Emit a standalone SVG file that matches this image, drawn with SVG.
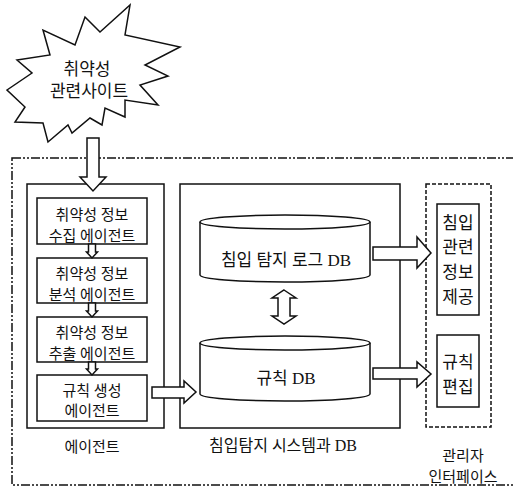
<svg xmlns="http://www.w3.org/2000/svg" width="513" height="487" viewBox="0 0 513 487">
<style>
text{font-family:"Liberation Serif","Noto Sans CJK KR",serif;fill:#111;text-anchor:middle;dominant-baseline:central}
.box{fill:none;stroke:#111;stroke-width:1.5}
.wbox{fill:#fff;stroke:#111;stroke-width:1.5}
.arr{fill:#fff;stroke:#111;stroke-width:1.5;stroke-linejoin:miter}
.t15{font-size:15px}
.t17{font-size:17px}
</style>
<rect width="513" height="487" fill="#fff"/>
<g id="outer">
<rect x="12" y="158" width="520" height="327" fill="none" stroke="#111" stroke-width="1.5" stroke-dasharray="9,2,2,2,2,2"/>
</g>
<g id="site">
<polygon class="wbox" points="85,17 100,32 130,5 125,35 180,47 145,65 168,76 140,85 158,105 125,100 125,117 105,108 102,125 90,118 72,133 68,125 48,142 43,123 15,122 25,107 7,90 32,73 17,60 50,55 43,30 75,45"/>
<text class="t17" x="87" y="69">취약성</text>
<text class="t17" x="89" y="91">관련사이트</text>
</g>
<g id="agent">
<rect class="box" x="27" y="184" width="137" height="244"/>
<text class="t15" x="92" y="447">에이전트</text>
</g>
<g id="collect">
<rect class="box" x="37" y="198" width="110" height="46"/>
<text class="t15" x="92" y="215">취약성 정보</text>
<text class="t15" x="92" y="236">수집 에이전트</text>
</g>
<g id="analyze">
<rect class="box" x="37" y="258" width="110" height="45"/>
<text class="t15" x="92" y="274">취약성 정보</text>
<text class="t15" x="92" y="295">분석 에이전트</text>
</g>
<g id="extract">
<rect class="box" x="37" y="317" width="110" height="45"/>
<text class="t15" x="92" y="333">취약성 정보</text>
<text class="t15" x="92" y="354">추출 에이전트</text>
</g>
<g id="generate">
<rect class="box" x="37" y="375" width="110" height="46"/>
<text class="t15" x="92" y="391">규칙 생성</text>
<text class="t15" x="92" y="411">에이전트</text>
</g>
<g id="ids">
<rect class="box" x="180" y="184" width="220" height="244"/>
<text style="font-size:16px" x="283" y="445">침입탐지 시스템과 DB</text>
</g>
<g id="logdb">
<path class="wbox" d="M200,222 V275 A85,7 0 0 0 370,275 V222"/>
<ellipse class="wbox" cx="285" cy="222" rx="85" ry="7"/>
<text class="t17" x="286" y="260">침입 탐지 로그 DB</text>
</g>
<g id="ruledb">
<path class="wbox" d="M200,343 V394 A85,7 0 0 0 370,394 V343"/>
<ellipse class="wbox" cx="285" cy="343" rx="85" ry="7"/>
<text class="t17" x="286" y="378">규칙 DB</text>
</g>
<g id="admin">
<rect x="426" y="184" width="65" height="243" fill="none" stroke="#111" stroke-width="1.5" stroke-dasharray="4,2"/>
<text class="t15" x="463" y="456">관리자</text>
<text class="t15" x="463" y="477">인터페이스</text>
</g>
<g id="info">
<rect class="box" x="437" y="204" width="42" height="111"/>
<text class="t17" x="458" y="223">침입</text>
<text class="t17" x="458" y="247">관련</text>
<text class="t17" x="458" y="272">정보</text>
<text class="t17" x="458" y="297">제공</text>
</g>
<g id="edit">
<rect class="box" x="437" y="335" width="42" height="72"/>
<text class="t17" x="458" y="362">규칙</text>
<text class="t17" x="458" y="387">편집</text>
</g>
<g id="connectors">
<polygon class="arr" points="87,138 99,138 99,177 106,177 93,191 80,177 87,177"/>
<polygon class="arr" points="88.5,244 95.5,244 95.5,252 97.5,252 92,258 86.5,252 88.5,252"/>
<polygon class="arr" points="88.5,303 95.5,303 95.5,311 97.5,311 92,317 86.5,311 88.5,311"/>
<polygon class="arr" points="88.5,362 95.5,362 95.5,369 97.5,369 92,375 86.5,369 88.5,369"/>
<polygon class="arr" points="152,387 184,387 184,381 196,392 184,403 184,398 152,398"/>
<polygon class="arr" points="373,247 417,247 417,237 431,253 417,268 417,260 373,260"/>
<polygon class="arr" points="373,368 417,368 417,362 431,374 417,387 417,379 373,379"/>
<polygon class="arr" points="284,290 296,298 290,298 290,316 296,316 284,324 272,316 278,316 278,298 272,298"/>
</g>
</svg>
